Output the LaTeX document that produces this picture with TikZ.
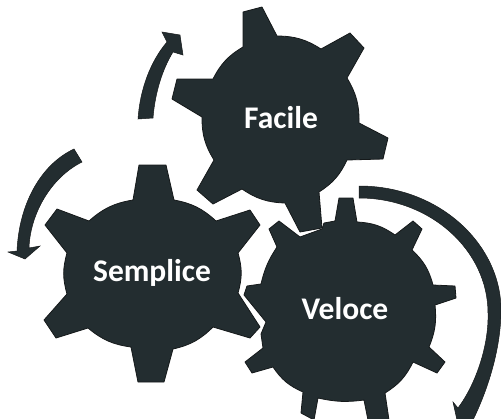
\documentclass[tikz,border=0pt]{standalone}
\usepackage{fontspec}
\setmainfont{Carlito}
\definecolor{gearfill}{HTML}{232D30}
\definecolor{gearedge}{HTML}{15191A}
\tikzset{
  x=1pt,y=-1pt,
  gear/.style={fill=gearfill,draw=gearedge,line width=0.8pt,line join=round},
  flow/.style={fill=gearfill,draw=gearedge,line width=0.5pt,line join=miter},
  geartext/.style={text=white,font=\bfseries\fontsize{31.5}{33}\selectfont,inner sep=0pt},
  arcb/.style={bend left=16}
}
\begin{document}
\begin{tikzpicture}
\useasboundingbox (0,0) rectangle (501,418);
\clip (0,0) rectangle (501,418);
% Veloce
\draw[gear] (335,221) -- (339,198) -- (353,198) -- (357,222)
  to[arcb] (395,235) -- (413,221) -- (422,229) -- (412,250)
  to[arcb] (433,285) -- (455,286) -- (456,298) -- (435,305)
  to[bend left=14] (429,347) -- (445,362) -- (437,373) -- (413,362)
  to[arcb] (385,393) -- (389,420) -- (368,420) -- (364,400)
  to[bend left=10] (318,398) -- (314,420) -- (301,413) -- (303,392)
  to[arcb] (273,367) -- (252,373) -- (245,362) -- (263,348)
  -- (261,334) -- (266,322) -- (244,295) -- (247,286) -- (261,284)
  to[bend left=10] (277,247) -- (269,229) -- (279,221) -- (300,237)
  -- (322,229) -- (324,223) -- cycle;
% Facile
\draw[gear] (243,12) -- (262,7) -- (277,36)
  to[arcb] (321,49) -- (350,33) -- (364,48) -- (347,78)
  to[arcb] (359,123) -- (388,138) -- (383,159) -- (347,160)
  to[arcb] (319,192) -- (322,228) -- (300,232) -- (285,203)
  to[arcb] (242,189) -- (213,204) -- (197,190) -- (214,160)
  to[arcb] (202,117) -- (172,99) -- (177,79) -- (213,79)
  to[arcb] (243,47) -- cycle;
% Semplice
\draw[gear] (139,165) -- (166,165) -- (174,200)
  to[arcb] (216,221) -- (250,210) -- (260,225) -- (238,253)
  to[arcb] (238,293) -- (260,327) -- (250,338) -- (213,327)
  to[arcb] (173,349) -- (164,382) -- (138,382) -- (131,347)
  to[arcb] (88,328) -- (56,338) -- (44,320) -- (67,294)
  to[arcb] (67,253) -- (45,225) -- (57,209) -- (89,221)
  to[arcb] (133,200) -- cycle;
% Arrows
\path[flow] (138,119) .. controls (140,90) and (150,62) .. (167,42)
  -- (162,32) -- (180,35) -- (183,55) -- (173,52)
  .. controls (163,68) and (155,92) .. (153,118) -- cycle;
\path[flow] (74,149) .. controls (40,165) and (19,205) .. (17,251)
  -- (8,252) -- (25,259) -- (40,246) -- (29,248)
  .. controls (30,215) and (50,178) .. (82,162) -- cycle;
\path[flow] (359,186) .. controls (440,186) and (501,245) .. (501,310)
  .. controls (501,345) and (490,385) .. (473,420)
  -- (457,420) -- (453,402) -- (458,408)
  .. controls (476,384) and (489,345) .. (488,313)
  .. controls (488,250) and (430,198) .. (359,198) -- cycle;
% Labels
\node[geartext] (facile) at (281,118) {Facile};
\node[geartext] (semplice) at (152,273) {Semplice};
\node[geartext] (veloce) at (345,309) {Veloce};
\end{tikzpicture}
\end{document}
